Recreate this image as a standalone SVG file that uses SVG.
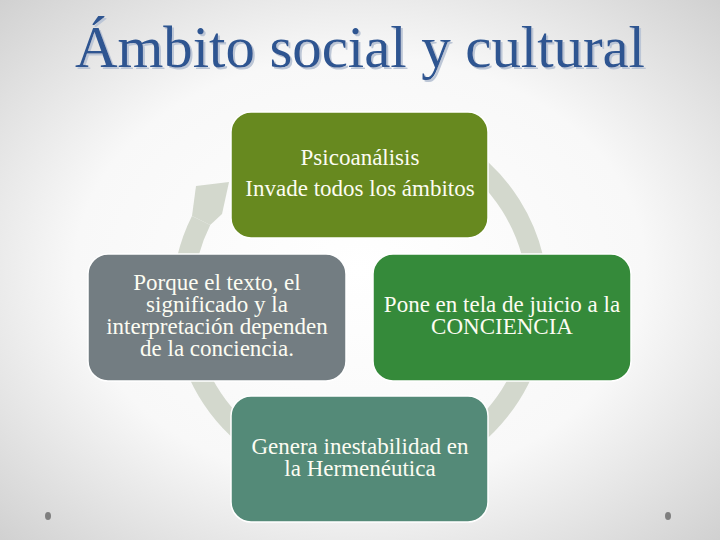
<svg xmlns="http://www.w3.org/2000/svg" width="720" height="540" viewBox="0 0 720 540">
  <defs>
    <radialGradient id="bg" cx="50%" cy="50%" r="72%">
      <stop offset="0" stop-color="#ffffff"/>
      <stop offset="0.55" stop-color="#f8f8f8"/>
      <stop offset="1" stop-color="#cfcfcf"/>
    </radialGradient>
    <filter id="shadow" x="-5%" y="-20%" width="110%" height="140%">
      <feOffset in="SourceAlpha" dx="2" dy="2" result="off"/>
      <feFlood flood-color="#bcc6d6"/>
      <feComposite in2="off" operator="in" result="sh"/>
      <feMerge>
        <feMergeNode in="sh"/>
        <feMergeNode in="SourceGraphic"/>
      </feMerge>
    </filter>
  </defs>
  <style>
    .title { font-family: "Liberation Serif", "DejaVu Serif", serif; font-size: 59px; text-anchor: middle; }
    .node { stroke: #ffffff; stroke-width: 1.5; }
    .lbl { font-family: "Liberation Serif", "DejaVu Serif", serif; font-size: 23px; fill: #fcfcf2; text-anchor: middle; }
    .ring { fill: none; stroke: #d3d8cd; stroke-width: 20.5; }
    .head { fill: #d3d8cd; }
  </style>
  <rect x="0" y="0" width="720" height="540" fill="url(#bg)"/>
  <g id="title">
    <text class="title" x="360" y="67" fill="#2e5591" textLength="570" filter="url(#shadow)">Ámbito social y cultural</text>
  </g>
  <g id="connectors">
    <path class="ring" d="M 390.9 124.7 A 177.8 177.8 0 1 1 201.1 220.5"/>
    <polygon class="head" points="192,215.9 196,186 229,182 222,214 210.2,225"/>
  </g>
  <g id="node-top">
    <rect class="node" x="231" y="112" width="257" height="126" rx="20" fill="#67891f"/>
    <text class="lbl" x="360" y="165">Psicoanálisis</text>
    <text class="lbl" x="360" y="196">Invade todos los ámbitos</text>
  </g>
  <g id="node-left">
    <rect class="node" x="88" y="254" width="258" height="127" rx="20" fill="#737d82"/>
    <text class="lbl" x="217" y="290">Porque el texto, el</text>
    <text class="lbl" x="217" y="312">significado y la</text>
    <text class="lbl" x="217" y="334">interpretación dependen</text>
    <text class="lbl" x="217" y="356">de la conciencia.</text>
  </g>
  <g id="node-right">
    <rect class="node" x="373" y="254" width="258" height="127" rx="20" fill="#358a3a"/>
    <text class="lbl" x="502" y="312">Pone en tela de juicio a la</text>
    <text class="lbl" x="502" y="334">CONCIENCIA</text>
  </g>
  <g id="node-bottom">
    <rect class="node" x="231" y="396" width="257" height="126" rx="20" fill="#548a78"/>
    <text class="lbl" x="360" y="454">Genera inestabilidad en</text>
    <text class="lbl" x="360" y="476">la Hermenéutica</text>
  </g>
  <g id="dots" fill="#7f7f7f">
    <ellipse cx="48" cy="516" rx="3" ry="4"/>
    <ellipse cx="668" cy="516" rx="3" ry="4"/>
  </g>
</svg>
